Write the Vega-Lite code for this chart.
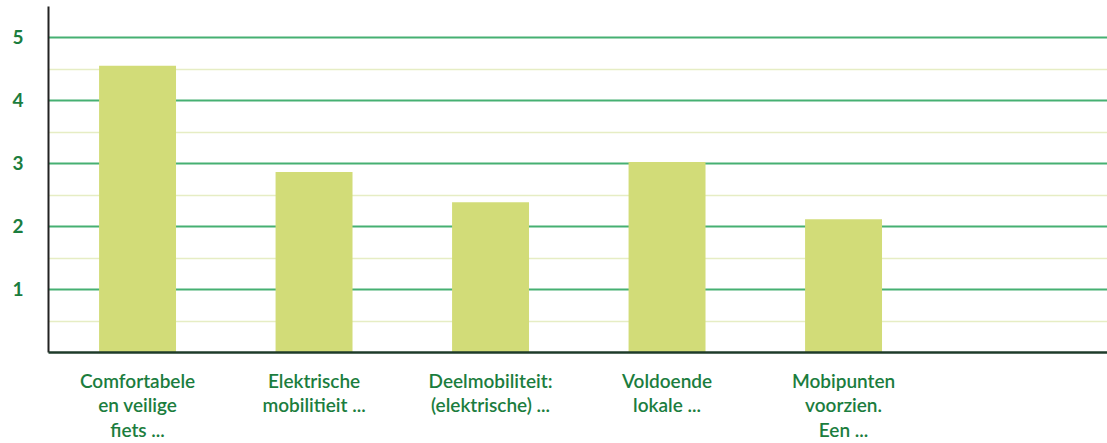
{
  "$schema": "https://vega.github.io/schema/vega-lite/v6.json",
  "width": 1059,
  "height": 346,
  "autosize": {"type": "none"},
  "padding": {"left": 48, "top": 6, "right": 0, "bottom": 91},
  "background": "white",
  "config": {"view": {"stroke": null}},
  "data": {
    "values": [
      {"label": "Comfortabele|en veilige|fiets ...", "value": 4.55},
      {"label": "Elektrische|mobilitieit ...", "value": 2.86},
      {"label": "Deelmobiliteit:|(elektrische) ...", "value": 2.38},
      {"label": "Voldoende|lokale ...", "value": 3.02},
      {"label": "Mobipunten|voorzien.|Een ...", "value": 2.11}
    ]
  },
  "mark": {"type": "bar", "color": "#d2dc78"},
  "encoding": {
    "x": {
      "field": "label",
      "type": "nominal",
      "sort": null,
      "scale": {"paddingInner": 0.564, "paddingOuter": 0.782, "align": 0.185},
      "axis": {
        "title": null,
        "zindex": 1,
        "domainColor": "#1e3b2a",
        "domainWidth": 2.5,
        "ticks": false,
        "tickSize": 0,
        "labelAngle": 0,
        "labelExpr": "split(datum.label, '|')",
        "labelFont": "Lato",
        "labelFontSize": 19,
        "labelFontWeight": 600,
        "labelColor": "#1b7d3e",
        "labelPadding": 20,
        "labelBaseline": "top",
        "labelLineHeight": 24.5,
        "labelLimit": 0
      }
    },
    "y": {
      "field": "value",
      "type": "quantitative",
      "scale": {"domain": [0, 5.5], "nice": false},
      "axis": {
        "title": null,
        "zindex": 0,
        "values": [0.5, 1, 1.5, 2, 2.5, 3, 3.5, 4, 4.5, 5],
        "labelExpr": "datum.value % 1 === 0 ? format(datum.value, 'd') : ''",
        "domainColor": "#222222",
        "domainWidth": 2,
        "ticks": false,
        "tickSize": 0,
        "grid": true,
        "gridColor": {"condition": {"test": "datum.value % 1 === 0", "value": "#46b072"}, "value": "#e6edc4"},
        "gridWidth": {"condition": {"test": "datum.value % 1 === 0", "value": 2}, "value": 1.5},
        "labelFont": "Lato",
        "labelFontSize": 19,
        "labelFontWeight": "bold",
        "labelColor": "#1b7d3e",
        "labelAlign": "left",
        "labelPadding": 36
      }
    }
  }
}
